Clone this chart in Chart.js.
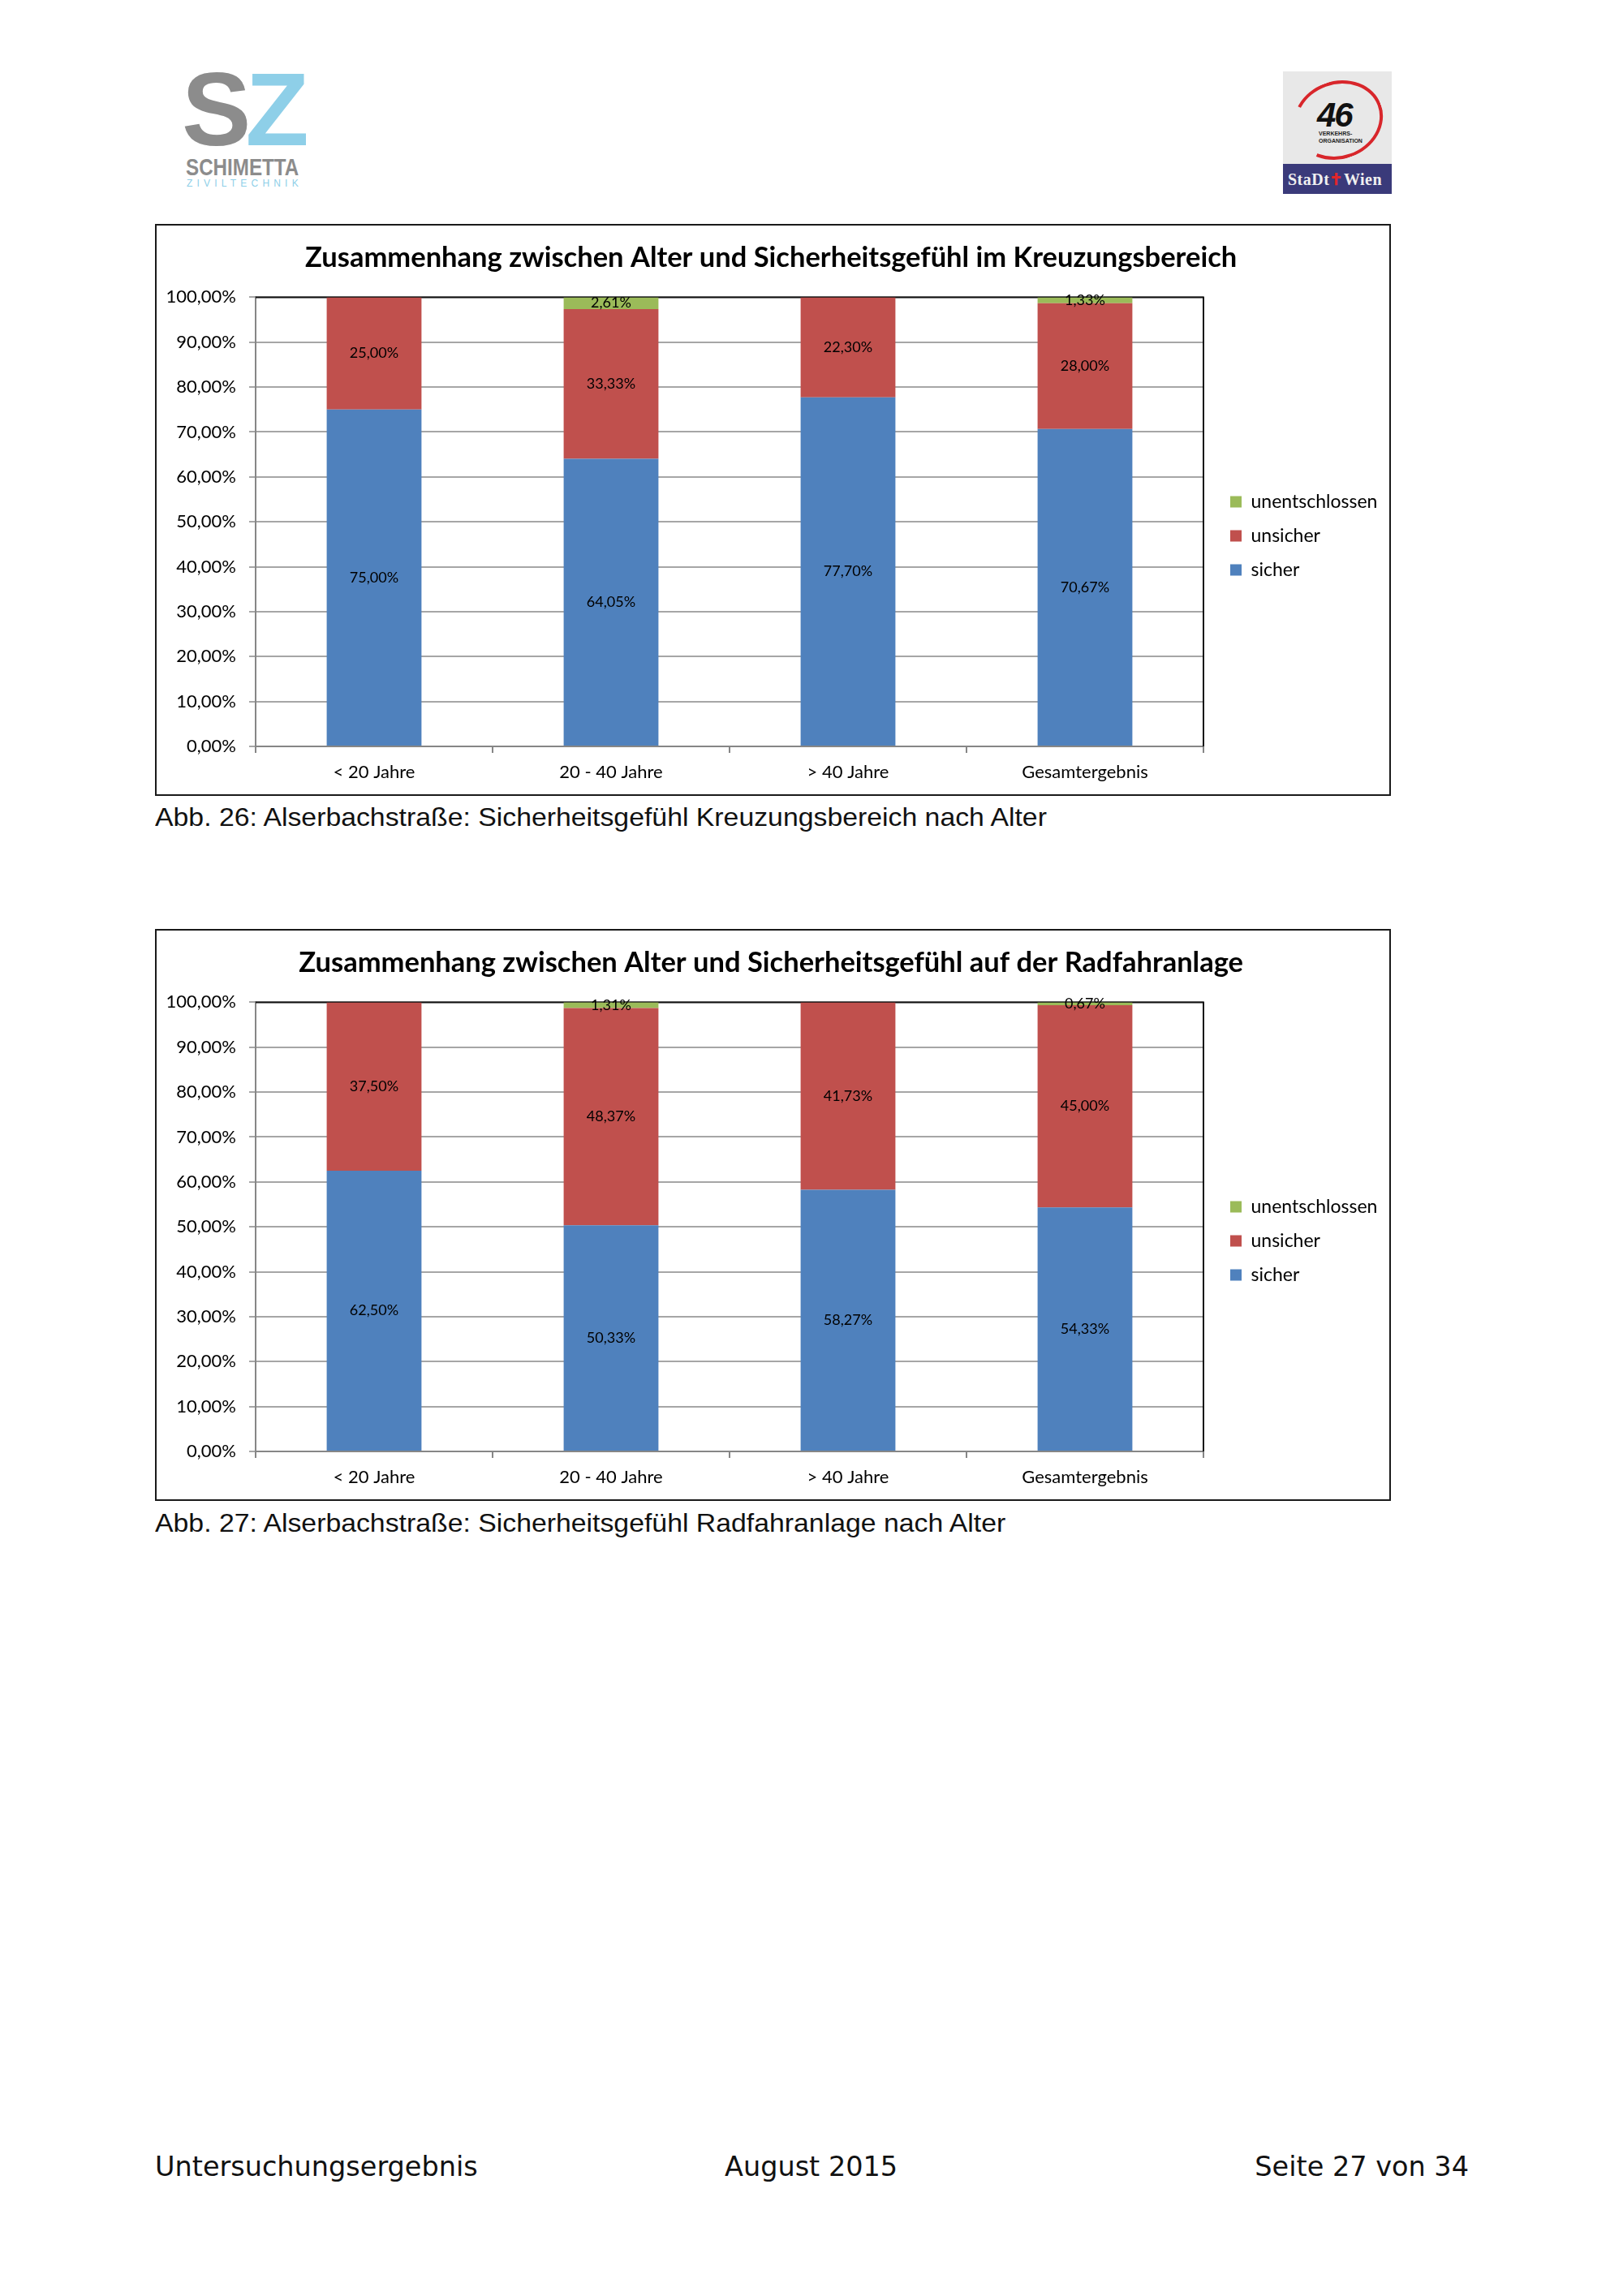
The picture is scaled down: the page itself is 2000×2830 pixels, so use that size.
<!DOCTYPE html>
<html lang="de">
<head>
<meta charset="utf-8">
<title>Alserbachstraße: Sicherheitsgefühl nach Alter</title>
<script src="https://cdn.jsdelivr.net/npm/chart.js@4.4.1/dist/chart.umd.min.js"></script>
<style>
  html, body { margin: 0; padding: 0; background: #fff; }
  body { width: 2000px; height: 2830px; position: relative; overflow: hidden; }
  .abs { position: absolute; white-space: nowrap; line-height: 1; }
  .chartbox { position: absolute; left: 191px; width: 1519px; height: 701px; border: 2px solid #1a1a1a; background: #fff; }
  .chartbox canvas { display: block; }
  .caption { font-family: "Liberation Sans", Arial, sans-serif; font-size: 32px; color: #111; left: 191px; transform: scaleX(1.056); transform-origin: left top; }
  .footer { font-family: "DejaVu Sans", Verdana, sans-serif; font-size: 33.5px; color: #111; top: 2654px; }
</style>
</head>
<body>

<!-- Logos -->
<div class="abs" style="left:224px; top:71px; font-family:'Liberation Sans', Arial, sans-serif; font-weight:bold; font-size:128px; letter-spacing:-7px;"><span style="color:#8c8c8c">S</span><span style="color:#8ecfe8">Z</span></div>
<div class="abs" style="left:229px; top:191px; font-family:'Liberation Sans', Arial, sans-serif; font-weight:bold; font-size:30px; color:#8c8c8c; transform:scaleX(0.806); transform-origin:left top;">SCHIMETTA</div>
<div class="abs" style="left:230px; top:220px; font-family:'Liberation Sans', Arial, sans-serif; font-size:12px; color:#8ecfe8; letter-spacing:5.2px;">ZIVILTECHNIK</div>

<div style="position:absolute; left:1581px; top:88px; width:134px; height:151px; background:#e8e8e8; overflow:hidden;">
  <div style="position:absolute; left:12px; top:12px; width:112px; height:96px; border:4px solid #d8262b; border-radius:50%; border-left-color:transparent; box-sizing:border-box; transform:rotate(-20deg);"></div>
  <div class="abs" style="left:42px; top:33px; font-family:'Liberation Sans', sans-serif; font-style:italic; font-weight:bold; font-size:42px; color:#111; letter-spacing:-2px;">46</div>
  <div class="abs" style="left:44px; top:72px; font-family:'Liberation Sans', sans-serif; font-weight:bold; font-size:7px; color:#222; line-height:9px;">VERKEHRS-<br>ORGANISATION</div>
  <div style="position:absolute; left:0; top:114px; width:134px; height:37px; background:#3a3a7a;"></div>
  <div class="abs" style="left:6px; top:123px; font-family:'Liberation Serif', serif; font-weight:bold; font-size:20px; color:#f0f0f0; letter-spacing:0.5px;">StaDt<span style="color:#e0262b;">&#10013;</span>Wien</div>
</div>

<!-- Chart 1 -->
<div class="chartbox" style="top:276px;"><canvas id="chartKreuzung" width="1519" height="701"></canvas></div>
<div class="abs caption" style="top:991px;">Abb. 26: Alserbachstraße: Sicherheitsgefühl Kreuzungsbereich nach Alter</div>

<!-- Chart 2 -->
<div class="chartbox" style="top:1145px;"><canvas id="chartRadfahranlage" width="1519" height="701"></canvas></div>
<div class="abs caption" style="top:1861px;">Abb. 27: Alserbachstraße: Sicherheitsgefühl Radfahranlage nach Alter</div>

<!-- Footer -->
<div class="abs footer" style="left:191px;">Untersuchungsergebnis</div>
<div class="abs footer" style="left:893px;">August 2015</div>
<div class="abs footer" style="right:190px;">Seite 27 von 34</div>

<script>
const categories = ['< 20 Jahre', '20 - 40 Jahre', '> 40 Jahre', 'Gesamtergebnis'];
const seriesNames = ['sicher', 'unsicher', 'unentschlossen'];
const seriesColors = ['#4F81BD', '#C0504D', '#9BBB59'];

// Abb. 26 - Kreuzungsbereich (%)
const kreuzungSicher = [75.00, 64.05, 77.70, 70.67];
const kreuzungUnsicher = [25.00, 33.33, 22.30, 28.00];
const kreuzungUnentschlossen = [null, 2.61, null, 1.33];

// Abb. 27 - Radfahranlage (%)
const radSicher = [62.50, 50.33, 58.27, 54.33];
const radUnsicher = [37.50, 48.37, 41.73, 45.00];
const radUnentschlossen = [null, 1.31, null, 0.67];

const chartFont = 'Lato';
const canvasW = 1519;

function pct(v) {
  return v.toFixed(2).replace('.', ',') + '%';
}

// legend sits right of a 14px spacer, pad so its box starts where the original does
const measure = document.createElement('canvas').getContext('2d');
measure.font = '23px ' + chartFont;
const legendTextW = measure.measureText('unentschlossen').width;
const legendRightPad = Math.max(0, canvasW - (1304 + 19 + 14 + 11.5 + legendTextW + 10));

const barLabels = {
  id: 'barLabels',
  afterDatasetsDraw(chart) {
    const ctx = chart.ctx;
    ctx.save();
    ctx.font = '18px ' + chartFont;
    ctx.fillStyle = '#000';
    ctx.textAlign = 'center';
    ctx.textBaseline = 'middle';
    chart.data.datasets.forEach((ds, i) => {
      const meta = chart.getDatasetMeta(i);
      meta.data.forEach((bar, j) => {
        const v = ds.data[j];
        if (v == null) return;
        const p = bar.getProps(['x', 'y', 'base'], true);
        ctx.fillText(pct(v), p.x, (p.y + p.base) / 2);
      });
    });
    ctx.restore();
  }
};

const plotFrame = {
  id: 'plotFrame',
  beforeDatasetsDraw(chart) {
    const a = chart.chartArea;
    const ctx = chart.ctx;
    ctx.save();
    ctx.strokeStyle = '#111';
    ctx.lineWidth = 2;
    ctx.beginPath();
    ctx.moveTo(a.left, a.top);
    ctx.lineTo(a.right, a.top);
    ctx.lineTo(a.right, a.bottom);
    ctx.stroke();
    ctx.restore();
  }
};

function makeChart(id, title, sicher, unsicher, unentschlossen) {
  const seriesData = [sicher, unsicher, unentschlossen];
  return new Chart(document.getElementById(id), {
    type: 'bar',
    data: {
      labels: categories,
      datasets: seriesNames.map((name, i) => ({
        label: name,
        data: seriesData[i],
        backgroundColor: seriesColors[i],
        borderWidth: 0,
        categoryPercentage: 1,
        barPercentage: 0.4
      }))
    },
    options: {
      responsive: false,
      animation: false,
      devicePixelRatio: 1,
      layout: { padding: { left: 0, right: legendRightPad, top: 0, bottom: 0 } },
      plugins: {
        title: {
          display: true,
          text: title,
          color: '#000',
          font: { family: chartFont, size: 34.5, weight: 'bold' },
          padding: { top: 19, bottom: 28 }
        },
        legend: {
          position: 'right',
          reverse: true,
          title: { display: true, text: ' ', font: { size: 10 }, padding: 26 },
          labels: {
            boxWidth: 14,
            boxHeight: 14,
            padding: 19,
            color: '#000',
            font: { family: chartFont, size: 23 }
          }
        },
        tooltip: { enabled: false }
      },
      scales: {
        x: {
          stacked: true,
          grid: { display: true, drawOnChartArea: false, drawTicks: true, tickLength: 8, color: '#868686', lineWidth: 2 },
          border: { color: '#868686', width: 2 },
          ticks: { color: '#000', font: { family: chartFont, size: 22 }, padding: 11 },
          afterFit: s => { s.height = 59; }
        },
        y: {
          stacked: true,
          min: 0,
          max: 100,
          ticks: { stepSize: 10, color: '#000', font: { family: chartFont, size: 22 }, padding: 16, callback: v => pct(v) },
          grid: { color: '#A6A6A6', lineWidth: 2, tickLength: 8 },
          border: { color: '#868686', width: 2 },
          afterFit: s => { s.width = 122; }
        },
        y2: {
          position: 'right',
          display: true,
          ticks: { display: false },
          grid: { display: false },
          border: { display: false },
          afterFit: s => { s.width = 14; }
        }
      }
    },
    plugins: [plotFrame, barLabels]
  });
}

makeChart('chartKreuzung', 'Zusammenhang zwischen Alter und Sicherheitsgefühl im Kreuzungsbereich',
  kreuzungSicher, kreuzungUnsicher, kreuzungUnentschlossen);
makeChart('chartRadfahranlage', 'Zusammenhang zwischen Alter und Sicherheitsgefühl auf der Radfahranlage',
  radSicher, radUnsicher, radUnentschlossen);
</script>
</body>
</html>
